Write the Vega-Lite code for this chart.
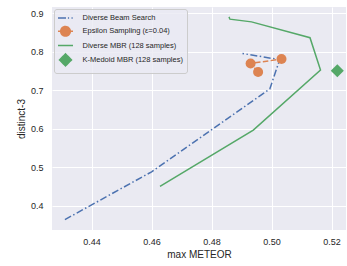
{
  "$schema": "https://vega.github.io/schema/vega-lite/v6.json",
  "autosize": {"type": "none"},
  "padding": {"left": 52, "top": 7, "right": 1, "bottom": 36},
  "width": 294,
  "height": 223,
  "background": "white",
  "title": {
    "text": "squad_v2",
    "font": "Liberation Sans",
    "fontSize": 10,
    "fontWeight": "normal",
    "color": "#262626",
    "baseline": "alphabetic",
    "offset": 5,
    "anchor": "middle"
  },
  "config": {
    "view": {"fill": "#EAEAF2", "stroke": null},
    "axis": {
      "labelFont": "Liberation Sans",
      "labelFontSize": 9,
      "labelColor": "#262626",
      "titleFont": "Liberation Sans",
      "titleFontSize": 10,
      "titleFontWeight": "normal",
      "titleColor": "#262626",
      "gridColor": "#ffffff",
      "gridWidth": 1,
      "gridOpacity": 1,
      "domain": false,
      "ticks": false
    }
  },
  "data": {
    "values": [
      {"series": "Diverse Beam Search", "i": 0, "meteor": 0.4311, "distinct": 0.364},
      {"series": "Diverse Beam Search", "i": 1, "meteor": 0.4600, "distinct": 0.488},
      {"series": "Diverse Beam Search", "i": 2, "meteor": 0.4994, "distinct": 0.703},
      {"series": "Diverse Beam Search", "i": 3, "meteor": 0.5027, "distinct": 0.779},
      {"series": "Diverse Beam Search", "i": 4, "meteor": 0.4903, "distinct": 0.795},
      {"series": "Epsilon Sampling (ε=0.04)", "i": 0, "meteor": 0.4955, "distinct": 0.747},
      {"series": "Epsilon Sampling (ε=0.04)", "i": 1, "meteor": 0.4930, "distinct": 0.769},
      {"series": "Epsilon Sampling (ε=0.04)", "i": 2, "meteor": 0.5033, "distinct": 0.7805},
      {"series": "Diverse MBR (128 samples)", "i": 0, "meteor": 0.4628, "distinct": 0.450},
      {"series": "Diverse MBR (128 samples)", "i": 1, "meteor": 0.4939, "distinct": 0.596},
      {"series": "Diverse MBR (128 samples)", "i": 2, "meteor": 0.5163, "distinct": 0.752},
      {"series": "Diverse MBR (128 samples)", "i": 3, "meteor": 0.5128, "distinct": 0.836},
      {"series": "Diverse MBR (128 samples)", "i": 4, "meteor": 0.4933, "distinct": 0.877},
      {"series": "Diverse MBR (128 samples)", "i": 5, "meteor": 0.4861, "distinct": 0.884},
      {"series": "Diverse MBR (128 samples)", "i": 6, "meteor": 0.4858, "distinct": 0.890},
      {"series": "K-Medoid MBR (128 samples)", "i": 0, "meteor": 0.5219, "distinct": 0.750}
    ]
  },
  "encoding": {
    "x": {
      "field": "meteor", "type": "quantitative",
      "scale": {"domain": [0.4268, 0.5248], "nice": false, "zero": false},
      "axis": {"title": "max METEOR", "values": [0.44, 0.46, 0.48, 0.5, 0.52], "format": ".2f", "labelPadding": 7, "titlePadding": 3}
    },
    "y": {
      "field": "distinct", "type": "quantitative",
      "scale": {"domain": [0.337, 0.9156], "nice": false, "zero": false},
      "axis": {"title": "distinct-3", "values": [0.4, 0.5, 0.6, 0.7, 0.8, 0.9], "format": ".1f", "labelPadding": 9, "titlePadding": 4}
    },
    "color": {
      "field": "series", "type": "nominal",
      "scale": {
        "domain": ["Diverse Beam Search", "Epsilon Sampling (ε=0.04)", "Diverse MBR (128 samples)", "K-Medoid MBR (128 samples)"],
        "range": ["#4C72B0", "#DD8452", "#55A868", "#55A868"]
      },
      "legend": {
        "title": null,
        "orient": "top-left",
        "offset": 2,
        "padding": 4,
        "symbolSize": 64,
        "symbolOffset": 2.5,
        "labelOffset": 12,
        "rowPadding": 1.3,
        "labelFont": "Liberation Sans",
        "labelFontSize": 7.5,
        "labelColor": "#262626",
        "labelLimit": 300,
        "fillColor": "rgba(234,234,242,0.8)",
        "strokeColor": "#cccccc",
        "cornerRadius": 2.5,
        "encode": {
          "symbols": {
            "update": {
              "shape": {"signal": "datum.value === 'Diverse Beam Search' ? 'M-1.875,0L0.125,0M0.6,0L0.9,0M1.5,0L1.8,0' : datum.value === 'Diverse MBR (128 samples)' ? 'M-1.875,0L1.875,0' : datum.value === 'K-Medoid MBR (128 samples)' ? 'M-1.5,0L0,-1.5L1.5,0L0,1.5Z' : 'M-1.875,0L-1.1,0M1.1,0L1.875,0M-1.2,0A1.2,1.2 0 1,0 1.2,0A1.2,1.2 0 1,0 -1.2,0Z'"},
              "fill": {"scale": "color", "field": "value"},
              "stroke": {"scale": "color", "field": "value"},
              "strokeWidth": {"value": 1.5},
              "strokeDash": {"value": [1, 0]},
              "opacity": {"value": 1},
              "fillOpacity": {"value": 1}
            }
          }
        }
      }
    }
  },
  "layer": [
    {
      "transform": [{"filter": "datum.series === 'Diverse Beam Search'"}],
      "mark": {"type": "line", "strokeWidth": 1.5, "strokeDash": [7, 2.5, 1.5, 2.5]},
      "encoding": {"order": {"field": "i", "type": "quantitative"}}
    },
    {
      "transform": [{"filter": "datum.series === 'Epsilon Sampling (ε=0.04)'"}],
      "mark": {"type": "line", "strokeWidth": 1.5, "strokeDash": [5.5, 2.4]},
      "encoding": {"order": {"field": "i", "type": "quantitative"}}
    },
    {
      "transform": [{"filter": "datum.series === 'Epsilon Sampling (ε=0.04)'"}],
      "mark": {"type": "point", "shape": "circle", "filled": true, "opacity": 1, "size": 100}
    },
    {
      "transform": [{"filter": "datum.series === 'Diverse MBR (128 samples)'"}],
      "mark": {"type": "line", "strokeWidth": 1.5},
      "encoding": {"order": {"field": "i", "type": "quantitative"}}
    },
    {
      "transform": [{"filter": "datum.series === 'K-Medoid MBR (128 samples)'"}],
      "mark": {"type": "point", "shape": "diamond", "filled": true, "opacity": 1, "size": 170}
    }
  ]
}
